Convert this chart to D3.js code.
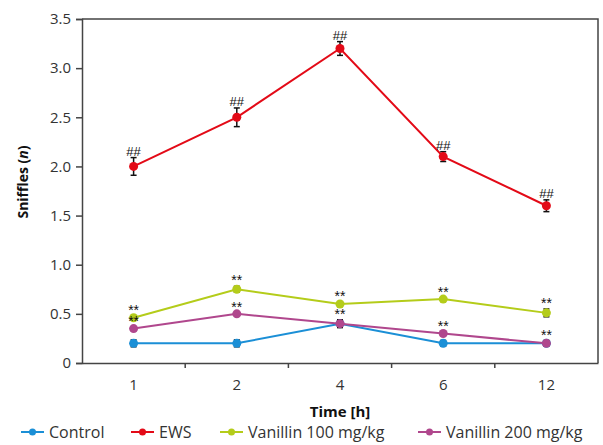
<!DOCTYPE html>
<html>
<head>
<meta charset="utf-8">
<script src="https://cdn.jsdelivr.net/npm/d3@7/dist/d3.min.js"></script>
<style>
  html, body { margin: 0; padding: 0; background: #fff; }
  svg { display: block; font-family: "Open Sans", "Noto Sans", sans-serif; }
</style>
</head>
<body>
<svg id="chart" width="603" height="445"></svg>
<script>
// Time points (hours)
const categories = ["1", "2", "4", "6", "12"];

// Mean sniffle counts per group, with error (SEM)
const controlValues = [0.2, 0.2, 0.4, 0.2, 0.2];
const controlErrors = [0.035, 0.035, 0.04, 0.03, 0.03];
const ewsValues = [2.0, 2.5, 3.2, 2.1, 1.6];
const ewsErrors = [0.09, 0.095, 0.07, 0.05, 0.06];
const van100Values = [0.46, 0.75, 0.6, 0.65, 0.51];
const van100Errors = [0.015, 0.03, 0.02, 0.012, 0.04];
const van200Values = [0.35, 0.5, 0.4, 0.3, 0.2];
const van200Errors = [0.012, 0.012, 0.035, 0.012, 0.02];

// Significance marks shown above each point
const ewsMarks = ["##", "##", "##", "##", "##"];
const van100Marks = ["**", "**", "**", "**", "**"];
const van200Marks = ["**", "**", "**", "**", "**"];

const yTicks = [0, 0.5, 1.0, 1.5, 2.0, 2.5, 3.0, 3.5];

const seriesNames = ["Control", "EWS", "Vanillin 100 mg/kg", "Vanillin 200 mg/kg"];
const seriesColors = ["#1b8fd6", "#e30a17", "#b4cc1a", "#b0478d"];

const series = [
  { name: seriesNames[0], color: seriesColors[0], values: controlValues, errors: controlErrors, marks: null },
  { name: seriesNames[1], color: seriesColors[1], values: ewsValues, errors: ewsErrors, marks: ewsMarks },
  { name: seriesNames[2], color: seriesColors[2], values: van100Values, errors: van100Errors, marks: van100Marks },
  { name: seriesNames[3], color: seriesColors[3], values: van200Values, errors: van200Errors, marks: van200Marks }
];

const svg = d3.select("#chart");
const margin = { left: 82, right: 5, top: 19, bottom: 82 };
const W = 603, H = 445;
const plotL = margin.left, plotR = W - margin.right, plotT = margin.top, plotB = H - margin.bottom;

const x = d3.scaleBand().domain(categories).range([plotL, plotR]).padding(0);
const y = d3.scaleLinear().domain([0, 3.5]).range([plotB, plotT]);
const xc = c => x(c) + x.bandwidth() / 2;

const axisColor = "#444";
const labelColor = "#333";

// Frame: top and right border
svg.append("path")
  .attr("d", `M${plotL},${plotT}H${plotR}V${plotB}`)
  .attr("fill", "none").attr("stroke", axisColor).attr("stroke-width", 1.5);

// Y axis
const yAxis = svg.append("g")
  .attr("transform", `translate(${plotL},0)`)
  .call(d3.axisLeft(y).tickValues(yTicks).tickSize(6).tickPadding(5)
    .tickFormat(d => d === 0 ? "0" : d3.format(".1f")(d)));
yAxis.select(".domain").attr("stroke", axisColor).attr("stroke-width", 1.5);
yAxis.selectAll(".tick line").attr("stroke", axisColor).attr("stroke-width", 1.5);
yAxis.selectAll(".tick text").attr("fill", labelColor)
  .style("font-size", "15px").style("font-family", "Open Sans, sans-serif");

// X axis: labels centred in bands, ticks at band boundaries
const xAxis = svg.append("g")
  .attr("transform", `translate(0,${plotB})`)
  .call(d3.axisBottom(x).tickSize(0).tickPadding(16));
xAxis.select(".domain").attr("stroke", axisColor).attr("stroke-width", 1.5);
xAxis.selectAll(".tick text").attr("fill", labelColor)
  .style("font-size", "15px").style("font-family", "Open Sans, sans-serif");
xAxis.selectAll("line.boundary")
  .data(categories.slice(1))
  .enter().append("line")
  .attr("class", "boundary")
  .attr("x1", d => x(d)).attr("x2", d => x(d))
  .attr("y1", 0).attr("y2", 5)
  .attr("stroke", axisColor).attr("stroke-width", 1.5);

// Axis titles
svg.append("text")
  .attr("x", (plotL + plotR) / 2).attr("y", 417)
  .attr("text-anchor", "middle")
  .style("font-size", "15px").style("font-weight", "bold").attr("fill", "#111")
  .text("Time [h]");

const yTitle = svg.append("text")
  .attr("transform", `translate(28,182) rotate(-90)`)
  .attr("text-anchor", "middle")
  .style("font-size", "14px").style("font-weight", "bold").attr("fill", "#111");
yTitle.append("tspan").text("Sniffles (");
yTitle.append("tspan").style("font-style", "italic").text("n");
yTitle.append("tspan").text(")");

// Series
const line = d3.line().x(d => xc(d.c)).y(d => y(d.v));

series.forEach(s => {
  const pts = categories.map((c, i) => ({ c, v: s.values[i], e: s.errors[i], m: s.marks ? s.marks[i] : null }));
  const g = svg.append("g");

  g.append("path").datum(pts)
    .attr("d", line).attr("fill", "none")
    .attr("stroke", s.color).attr("stroke-width", 2);

  // Error bars
  const eb = g.selectAll("g.err").data(pts).enter().append("g");
  eb.append("line")
    .attr("x1", d => xc(d.c)).attr("x2", d => xc(d.c))
    .attr("y1", d => y(d.v - d.e)).attr("y2", d => y(d.v + d.e))
    .attr("stroke", "#111").attr("stroke-width", 1.5);
  [-1, 1].forEach(sign => {
    eb.append("line")
      .attr("x1", d => xc(d.c) - 3).attr("x2", d => xc(d.c) + 3)
      .attr("y1", d => y(d.v + sign * d.e)).attr("y2", d => y(d.v + sign * d.e))
      .attr("stroke", "#111").attr("stroke-width", 1.5);
  });

  g.selectAll("circle").data(pts).enter().append("circle")
    .attr("cx", d => xc(d.c)).attr("cy", d => y(d.v))
    .attr("r", 4.5).attr("fill", s.color);

  if (s.marks) {
    g.selectAll("text.mark").data(pts).enter().append("text")
      .attr("class", "mark")
      .attr("x", d => xc(d.c))
      .attr("y", d => y(d.v + d.e) - (d.m === "##" ? 2 : 1))
      .attr("text-anchor", "middle")
      .style("font-size", d => d.m === "##" ? "13px" : "14px")
      .style("font-family", "Liberation Sans, Arial, sans-serif")
      .attr("fill", "#111")
      .text(d => d.m);
  }
});

// Legend
const legendX = [21, 131, 220, 418];
const legendY = 432;
const lg = svg.append("g");
series.forEach((s, i) => {
  const g = lg.append("g").attr("transform", `translate(${legendX[i]},${legendY})`);
  g.append("line").attr("x1", 0).attr("x2", 23).attr("y1", 0).attr("y2", 0)
    .attr("stroke", s.color).attr("stroke-width", 2);
  g.append("circle").attr("cx", 11.5).attr("cy", 0).attr("r", 3.5).attr("fill", s.color);
  g.append("text").attr("x", 28).attr("y", 6)
    .style("font-size", "16px").attr("fill", labelColor)
    .text(s.name);
});
</script>
</body>
</html>
